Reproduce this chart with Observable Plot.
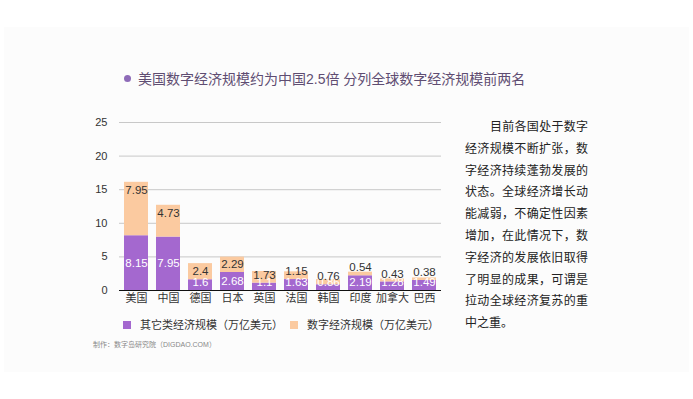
<!DOCTYPE html>
<html><head><meta charset="utf-8">
<script src="https://cdn.jsdelivr.net/npm/d3@7"></script>
<script src="https://cdn.jsdelivr.net/npm/@observablehq/plot@0.6"></script>
<style>
html,body{margin:0;padding:0;background:#fff;}
body{width:693px;height:399px;position:relative;overflow:hidden;font-family:"Liberation Sans","Noto Sans CJK SC",sans-serif;}
#card{position:absolute;left:4px;top:27px;width:685px;height:345px;background:#fcfcfc;}
#title{position:absolute;left:124px;top:69px;font-size:14px;color:#5f4d72;white-space:nowrap;line-height:20px;}
#title .dot{display:inline-block;width:7px;height:7px;border-radius:50%;background:#8e6bb8;margin-right:7px;position:relative;top:-2px;}
#chart{position:absolute;left:90px;top:100px;}
.leg{position:absolute;font-size:11px;color:#333;white-space:nowrap;line-height:14px;}
.sw{position:absolute;width:8px;height:8px;}
#caption{position:absolute;left:93px;top:339px;font-size:7px;color:#888;white-space:nowrap;}
#side{position:absolute;left:465px;top:117px;width:123px;font-size:12px;color:#222;line-height:21.8px;}
#side div{text-align:justify;text-align-last:justify;white-space:nowrap;}
#side div.last{text-align-last:left;}
</style></head><body>
<div id="card"></div>
<div id="title"><span class="dot"></span>美国数字经济规模约为中国2.5倍 分列全球数字经济规模前两名</div>
<div id="chart"></div>
<div class="sw" style="left:123px;top:321px;background:#a468cf"></div>
<div class="leg" style="left:140px;top:318px">其它类经济规模（万亿美元）</div>
<div class="sw" style="left:290px;top:321px;background:#fbcaa0"></div>
<div class="leg" style="left:307px;top:318px">数字经济规模（万亿美元）</div>
<div id="caption">制作：数字岛研究院（DIGDAO.COM）</div>
<div id="side">
<div style="padding-left:25px">目前各国处于数字</div>
<div>经济规模不断扩张，数</div>
<div>字经济持续蓬勃发展的</div>
<div>状态。全球经济增长动</div>
<div>能减弱，不确定性因素</div>
<div>增加，在此情况下，数</div>
<div>字经济的发展依旧取得</div>
<div>了明显的成果，可谓是</div>
<div>拉动全球经济复苏的重</div>
<div class="last">中之重。</div>
</div>
<script>
const countries = ["美国","中国","德国","日本","英国","法国","韩国","印度","加拿大","巴西"];
const otherValues = [8.15, 7.95, 1.6, 2.68, 1.1, 1.63, 0.86, 2.19, 1.28, 1.49];
const digitalValues = [7.95, 4.73, 2.4, 2.29, 1.73, 1.15, 0.76, 0.54, 0.43, 0.38];
const seriesNames = ["其它类经济规模（万亿美元）","数字经济规模（万亿美元）"];
const yTicks = [0,5,10,15,20,25];

const rows = [];
countries.forEach((c,i)=>{
  rows.push({country:c, type:seriesNames[0], value:otherValues[i]});
  rows.push({country:c, type:seriesNames[1], value:digitalValues[i]});
});
const summary = countries.map((c,i)=>({country:c, other:otherValues[i], digital:digitalValues[i], total:otherValues[i]+digitalValues[i]}));

const H = 210, MT = 22, MB = 20;
const k = (H - MT - MB) / 25; // px per unit
const off = 8 / k;

const chart = Plot.plot({
  width: 351, height: H,
  marginLeft: 29, marginRight: 0, marginTop: MT, marginBottom: MB,
  style: {fontFamily: '"Liberation Sans","Noto Sans CJK SC",sans-serif', fontSize: "11px", color: "#333", background: "transparent", overflow: "visible"},
  x: {domain: countries, paddingInner: 0.25, paddingOuter: 0.125, label: null, tickSize: 0, tickPadding: 4},
  y: {domain: [0,25], ticks: yTicks, label: null, tickSize: 0, tickPadding: 12},
  color: {domain: seriesNames, range: ["#a468cf","#fbcaa0"]},
  marks: [
    Plot.gridY(yTicks, {stroke: "#c8c8c8", strokeOpacity: 1, strokeWidth: 1}),
    Plot.barY(rows, {x: "country", y: "value", fill: "type", order: null}),
    Plot.text(summary, {x: "country", y: d => Math.max(d.other/2, off), text: d => String(d.other), fill: "white", fontSize: 11.5}),
    Plot.text(summary, {x: "country", y: d => Math.max(d.total - off, d.other + off), text: d => String(d.digital), fill: "#333", fontSize: 11.5}),
    Plot.ruleY([0], {stroke: "#111", strokeWidth: 1.2})
  ]
});
document.getElementById("chart").appendChild(chart);
</script>
</body></html>
